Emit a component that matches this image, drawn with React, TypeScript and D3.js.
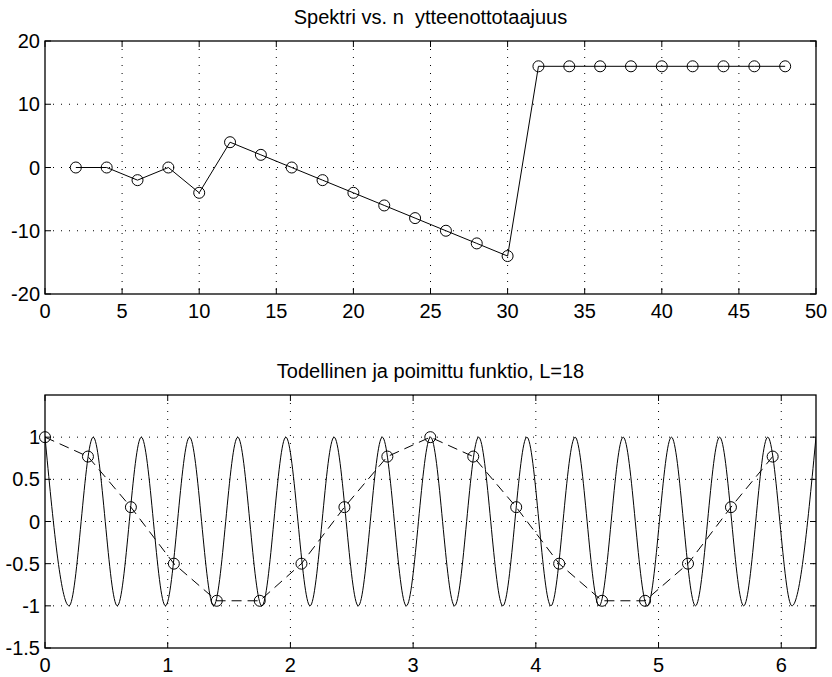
import React, { useEffect, useRef } from "react";
import * as d3 from "d3";

// top plot: spectrum vs sampling frequency
const spectrumX = [2, 4, 6, 8, 10, 12, 14, 16, 18, 20, 22, 24, 26, 28, 30, 32, 34, 36, 38, 40, 42, 44, 46, 48];
const spectrumY = [0, 0, -2, 0, -4, 4, 2, 0, -2, -4, -6, -8, -10, -12, -14, 16, 16, 16, 16, 16, 16, 16, 16, 16];
const topXTicks = [0, 5, 10, 15, 20, 25, 30, 35, 40, 45, 50];
const topYTicks = [-20, -10, 0, 10, 20];

// bottom plot: true function (peaks / troughs) and samples
const waveX = [
  0, 0.196, 0.393, 0.589, 0.785, 0.982, 1.178, 1.374, 1.571, 1.767, 1.963, 2.16, 2.356, 2.553, 2.749, 2.945,
  3.142, 3.338, 3.534, 3.731, 3.927, 4.123, 4.32, 4.516, 4.712, 4.909, 5.105, 5.301, 5.498, 5.694, 5.89, 6.087,
  6.283,
];
const waveY = [
  1, -1, 1, -1, 1, -1, 1, -1, 1, -1, 1, -1, 1, -1, 1, -1, 1, -1, 1, -1, 1, -1, 1, -1, 1, -1, 1, -1, 1, -1, 1, -1, 1,
];
const sampleX = [0, 0.35, 0.7, 1.05, 1.4, 1.75, 2.09, 2.44, 2.79, 3.14, 3.49, 3.84, 4.19, 4.54, 4.89, 5.24, 5.59, 5.93];
const sampleY = [1, 0.77, 0.17, -0.5, -0.94, -0.94, -0.5, 0.17, 0.77, 1, 0.77, 0.17, -0.5, -0.94, -0.94, -0.5, 0.17, 0.77];
const bottomXTicks = [0, 1, 2, 3, 4, 5, 6];
const bottomYTicks = [-1.5, -1, -0.5, 0, 0.5, 1];

const FONT = "'Liberation Sans', Arial, Helvetica, sans-serif";

const App = () => {
  const svgRef = useRef<SVGSVGElement | null>(null);

  useEffect(() => {
    if (!svgRef.current) return;
    const svg = d3.select(svgRef.current);
    svg.selectAll("*").remove();

    const left = 45;
    const right = 816;

    // draws frame, grid, ticks and labels for one subplot
    const drawAxes = (
      g: any,
      x: any,
      y: any,
      xTicks: number[],
      yTicks: number[],
      title: string,
      clipId: string
    ) => {
      const [x0, x1] = x.range();
      const [y0, y1] = y.range(); // y0 bottom, y1 top

      g.append("clipPath")
        .attr("id", clipId)
        .append("rect")
        .attr("x", x0)
        .attr("y", y1)
        .attr("width", x1 - x0)
        .attr("height", y0 - y1);

      // dotted grid
      const xd = x.domain();
      const yd = y.domain();
      g.selectAll(".gx")
        .data(xTicks.filter((t) => t > xd[0] && t < xd[1] - 1e-9))
        .enter()
        .append("line")
        .attr("x1", (d: number) => x(d))
        .attr("x2", (d: number) => x(d))
        .attr("y1", y1)
        .attr("y2", y0)
        .attr("stroke", "#000")
        .attr("stroke-width", 1)
        .attr("stroke-dasharray", "1,7");
      g.selectAll(".gy")
        .data(yTicks.filter((t) => t > yd[0] && t < yd[1]))
        .enter()
        .append("line")
        .attr("y1", (d: number) => y(d))
        .attr("y2", (d: number) => y(d))
        .attr("x1", x0)
        .attr("x2", x1)
        .attr("stroke", "#000")
        .attr("stroke-width", 1)
        .attr("stroke-dasharray", "1,7");

      // tick marks on all four sides, pointing inward
      const tl = 6;
      xTicks.forEach((t) => {
        g.append("line").attr("x1", x(t)).attr("x2", x(t)).attr("y1", y0).attr("y2", y0 - tl).attr("stroke", "#000");
        g.append("line").attr("x1", x(t)).attr("x2", x(t)).attr("y1", y1).attr("y2", y1 + tl).attr("stroke", "#000");
      });
      yTicks.forEach((t) => {
        g.append("line").attr("y1", y(t)).attr("y2", y(t)).attr("x1", x0).attr("x2", x0 + tl).attr("stroke", "#000");
        g.append("line").attr("y1", y(t)).attr("y2", y(t)).attr("x1", x1).attr("x2", x1 - tl).attr("stroke", "#000");
      });

      // frame
      g.append("rect")
        .attr("x", x0)
        .attr("y", y1)
        .attr("width", x1 - x0)
        .attr("height", y0 - y1)
        .attr("fill", "none")
        .attr("stroke", "#000")
        .attr("stroke-width", 1.3);

      // tick labels
      g.selectAll(".xl")
        .data(xTicks)
        .enter()
        .append("text")
        .attr("x", (d: number) => x(d))
        .attr("y", y0 + 24)
        .attr("text-anchor", "middle")
        .attr("font-family", FONT)
        .attr("font-size", 20)
        .text((d: number) => String(d));
      g.selectAll(".yl")
        .data(yTicks)
        .enter()
        .append("text")
        .attr("x", x0 - 5)
        .attr("y", (d: number) => y(d) + 7)
        .attr("text-anchor", "end")
        .attr("font-family", FONT)
        .attr("font-size", 20)
        .text((d: number) => String(d));

      // title
      g.append("text")
        .attr("x", (x0 + x1) / 2)
        .attr("y", y1 - 17)
        .attr("text-anchor", "middle")
        .attr("font-family", FONT)
        .attr("font-size", 20)
        .attr("xml:space", "preserve")
        .style("white-space", "pre")
        .text(title);
    };

    // ---- top subplot
    const xTop = d3.scaleLinear().domain([0, 50]).range([left, right]);
    const yTop = d3.scaleLinear().domain([-20, 20]).range([294, 41]);
    const gTop = svg.append("g");
    drawAxes(gTop, xTop, yTop, topXTicks, topYTicks, "Spektri vs. n  ytteenottotaajuus", "clipTop");

    const spec = spectrumX.map((v, i) => [v, spectrumY[i]] as [number, number]);
    gTop
      .append("path")
      .datum(spec)
      .attr("fill", "none")
      .attr("stroke", "#000")
      .attr("stroke-width", 1)
      .attr(
        "d",
        d3
          .line<[number, number]>()
          .x((d) => xTop(d[0]))
          .y((d) => yTop(d[1]))
      );
    gTop
      .selectAll(".m")
      .data(spec)
      .enter()
      .append("circle")
      .attr("cx", (d) => xTop(d[0]))
      .attr("cy", (d) => yTop(d[1]))
      .attr("r", 5.5)
      .attr("fill", "none")
      .attr("stroke", "#000")
      .attr("stroke-width", 1);

    // ---- bottom subplot
    const xBot = d3.scaleLinear().domain([0, 2 * Math.PI]).range([left, right]);
    const yBot = d3.scaleLinear().domain([-1.5, 1.5]).range([648, 395]);
    const gBot = svg.append("g");
    drawAxes(gBot, xBot, yBot, bottomXTicks, bottomYTicks, "Todellinen ja poimittu funktio, L=18", "clipBot");

    const wave = waveX.map((v, i) => [v, waveY[i]] as [number, number]);
    gBot
      .append("path")
      .datum(wave)
      .attr("clip-path", "url(#clipBot)")
      .attr("fill", "none")
      .attr("stroke", "#000")
      .attr("stroke-width", 1)
      .attr(
        "d",
        d3
          .line<[number, number]>()
          .curve(d3.curveMonotoneX)
          .x((d) => xBot(d[0]))
          .y((d) => yBot(d[1]))
      );

    const samples = sampleX.map((v, i) => [v, sampleY[i]] as [number, number]);
    gBot
      .append("path")
      .datum(samples)
      .attr("fill", "none")
      .attr("stroke", "#000")
      .attr("stroke-width", 1)
      .attr("stroke-dasharray", "10,6")
      .attr(
        "d",
        d3
          .line<[number, number]>()
          .x((d) => xBot(d[0]))
          .y((d) => yBot(d[1]))
      );
    gBot
      .selectAll(".m")
      .data(samples)
      .enter()
      .append("circle")
      .attr("cx", (d) => xBot(d[0]))
      .attr("cy", (d) => yBot(d[1]))
      .attr("r", 5.5)
      .attr("fill", "none")
      .attr("stroke", "#000")
      .attr("stroke-width", 1);
  }, []);

  return (
    <svg
      ref={svgRef}
      width={832}
      height={677}
      style={{ position: "absolute", left: 0, top: 0, background: "#fff" }}
    ></svg>
  );
};

export default App;
